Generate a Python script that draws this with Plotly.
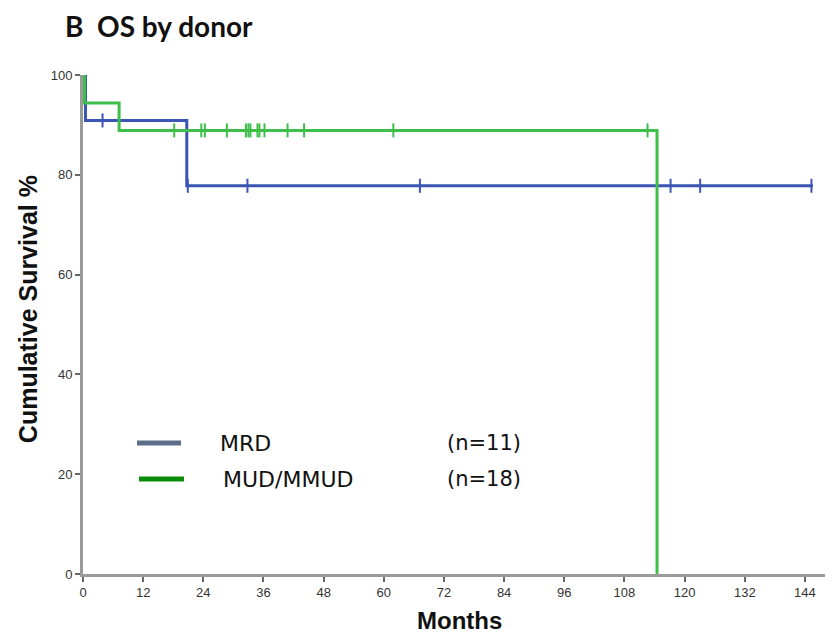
import plotly.graph_objects as go

# ---- data ----
mrd_t = [0, 0.5, 20.7, 145.6]
mrd_s = [100, 90.9, 77.8, 77.8]
mrd_cens = [3.9, 20.9, 32.8, 67.2, 117.2, 123.1, 145.3]

mud_t = [0, 0.3, 7.2, 114.5]
mud_s = [100, 94.4, 88.9, 0]
mud_cens = [18.2, 23.6, 24.3, 28.7, 32.5, 33.0, 33.4, 34.8, 35.2, 36.2,
            40.8, 44.1, 61.9, 112.6]

x_ticks = [0, 12, 24, 36, 48, 60, 72, 84, 96, 108, 120, 132, 144]
y_ticks = [0, 20, 40, 60, 80, 100]

groups = ["MRD", "MUD/MMUD"]
group_n = ["(n=11)", "(n=18)"]

BLUE = "#3b55b5"
GREEN = "#3dbf4a"
LEG_COLORS = ["#5b6d89", "#0b8c0b"]


def surv_at(times, surv, t):
    val = surv[0]
    for ti, si in zip(times, surv):
        if t >= ti:
            val = si
    return val


fig = go.Figure()
for t, s, cens, col, name in [(mrd_t, mrd_s, mrd_cens, BLUE, groups[0]),
                              (mud_t, mud_s, mud_cens, GREEN, groups[1])]:
    fig.add_trace(go.Scatter(x=t, y=s, mode="lines", line=dict(color=col, width=3, shape="hv"),
                             name=name, showlegend=False, hoverinfo="skip"))
    fig.add_trace(go.Scatter(x=cens, y=[surv_at(t, s, c) for c in cens], mode="markers",
                             marker=dict(symbol="line-ns", size=10, line=dict(color=col, width=2)),
                             showlegend=False, hoverinfo="skip", cliponaxis=False))

# page offset (body margin) and plot area in window pixels
OFF = 8
W, H = 833 - OFF, 643 - OFF
L, R, T, B = 83, 833, 74.7, 574


def px(xp):
    return (xp - L) / (R - L)


def py(yp):
    return (B - yp) / (B - T)


annotations = [
    dict(text="<b>B  OS by donor</b>", x=px(63), y=py(26), xanchor="left", yanchor="middle",
         font=dict(family="Lato", size=28, color="#111")),
    dict(text="<b>Cumulative Survival %</b>", x=px(28), y=py(309), textangle=-90,
         xanchor="center", yanchor="middle", font=dict(family="Liberation Sans", size=25, color="#111")),
    dict(text="<b>Months</b>", x=px(459), y=py(621), xanchor="center", yanchor="middle",
         font=dict(family="Liberation Sans", size=24, color="#111")),
]
leg_y = [443, 479]
leg_line_x = [(137, 181), (139, 184)]
leg_text_x = [218, 221]
shapes = []
for i in range(2):
    shapes.append(dict(type="line", xref="paper", yref="paper",
                       x0=px(leg_line_x[i][0]), x1=px(leg_line_x[i][1]),
                       y0=py(leg_y[i]), y1=py(leg_y[i]),
                       line=dict(color=LEG_COLORS[i], width=5)))
    annotations.append(dict(text=groups[i], x=px(leg_text_x[i]), y=py(leg_y[i]), xanchor="left",
                            yanchor="middle", font=dict(family="DejaVu Sans", size=22, color="#111")))
    annotations.append(dict(text=group_n[i], x=px(445), y=py(leg_y[i]), xanchor="left",
                            yanchor="middle", font=dict(family="DejaVu Sans", size=21, color="#111")))
for a in annotations:
    a.update(xref="paper", yref="paper", showarrow=False)

fig.update_layout(
    width=W, height=H,
    margin=dict(l=L - OFF, r=W - (R - OFF), t=T - OFF, b=H - (B - OFF), pad=0),
    plot_bgcolor="white", paper_bgcolor="white",
    annotations=annotations, shapes=shapes,
    xaxis=dict(range=[0, 149.6], tickvals=x_ticks, ticktext=[str(v) for v in x_ticks],
               showgrid=False, zeroline=False, showline=True, linecolor="#9a9a9a", linewidth=2.5,
               ticks="outside", ticklen=5, tickwidth=1.5, tickcolor="#666",
               tickfont=dict(family="Liberation Sans", size=13, color="#333")),
    yaxis=dict(range=[0, 100], tickvals=y_ticks, ticktext=[str(v) for v in y_ticks],
               showgrid=False, zeroline=False, showline=True, linecolor="#9a9a9a", linewidth=3,
               ticks="outside", ticklen=5, tickwidth=1.5, tickcolor="#666",
               tickfont=dict(family="Liberation Sans", size=13, color="#333")),
)

fig.write_html("out.html")
